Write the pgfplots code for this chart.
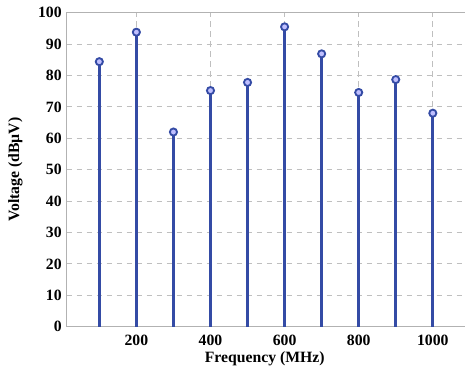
\documentclass[border=0pt]{standalone}
\usepackage{pgfplots}
\pgfplotsset{compat=1.18}
\usepackage{fontspec}
\setmainfont{Liberation Serif}
\definecolor{stemblue}{RGB}{52,75,165}
\begin{document}
\begin{tikzpicture}
\begin{axis}[
  at={(0pt,0pt)}, anchor=south west,
  scale only axis,
  width=282.2pt, height=219.8pt,
  xmin=12, xmax=1100,
  ymin=0, ymax=100,
  xtick={200,400,600,800,1000},
  ytick={0,10,...,100},
  grid=major,
  major grid style={dash pattern=on 4pt off 3pt, gray!50, line width=0.6pt},
  axis line style={gray!60},
  major tick length=0pt,
  tick label style={font=\bfseries\fontsize{11}{12}\selectfont},
  /pgf/number format/assume math mode=true,
  label style={font=\bfseries\fontsize{11}{12}\selectfont},
  xlabel={Frequency (MHz)},
  ylabel={Voltage (dB\textmu V)},
  xlabel style={at={(axis description cs:0.5,0)}, anchor=center, yshift=-22.7pt, xshift=-2.5pt},
  ylabel style={at={(axis description cs:0,0.5)}, anchor=center, yshift=36pt},
  xticklabel style={yshift=-2pt, /pgf/number format/1000 sep={}},
  clip=false,
]
\addplot+[ycomb, color=stemblue, line width=2pt,
  mark=*, mark size=2.5pt,
  mark options={fill=white!75!blue, draw=stemblue, line width=1.3pt}]
coordinates {
(100,84.4) (200,93.8) (300,62.0) (400,75.2) (500,77.8)
(600,95.5) (700,86.9) (800,74.6) (900,78.7) (1000,68.0)
};
\end{axis}
\pgfresetboundingbox
\useasboundingbox (-46.7pt,-32.4pt) rectangle (278.8pt,228.7pt);
\end{tikzpicture}
\end{document}
